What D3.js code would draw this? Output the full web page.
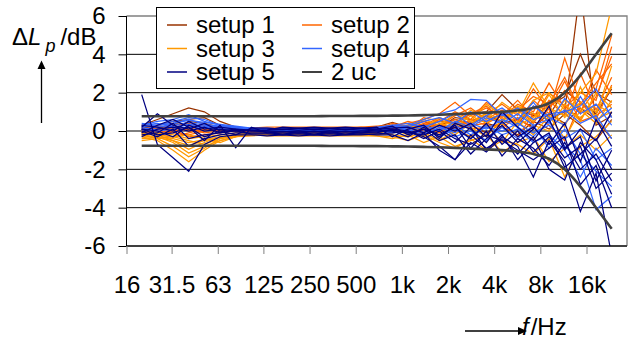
<!DOCTYPE html>
<html>
<head>
<meta charset="utf-8">
<script src="https://cdn.jsdelivr.net/npm/d3@7/dist/d3.min.js"></script>
<style>
  html, body { margin: 0; padding: 0; background: #fff; }
  svg { display: block; font-family: "Liberation Sans", Arial, sans-serif; }
</style>
</head>
<body>
<svg id="chart" width="632" height="341"></svg>
<script>
// One-third octave band centre frequencies (Hz) of every measured curve
const bands = [20, 25, 31.5, 40, 50, 63, 80, 100, 125, 160, 200, 250, 315, 400, 500, 630, 800,
  1000, 1250, 1600, 2000, 2500, 3150, 4000, 5000, 6300, 8000, 10000, 12500, 16000, 20000];

// Octave labels on the frequency axis
const tickFreqs = [16, 31.5, 63, 125, 250, 500, 1000, 2000, 4000, 8000, 16000];
const tickLabels = ["16", "31.5", "63", "125", "250", "500", "1k", "2k", "4k", "8k", "16k"];
const yTicks = [-6, -4, -2, 0, 2, 4, 6];

// Level deviation ΔLp in dB, one row per measurement
const setup1 = [
  [0.3, 0.6, 0.9, 1.2, 1.0, 0.5, 0.2, 0.1, 0.1, 0.05, 0.1, 0.05, 0.1, 0.1, 0.15, 0.2, 0.45, 0.2, 0.3, 0.5, 0.4, 0.9, 1.0, 1.9, 1.1, 0.8, 1.3, 1.8, 4.0, 2.0, 1.5],
  [0.1, 0.3, 0.5, 0.6, 0.7, 0.3, 0.1, 0.0, 0.05, 0.0, 0.05, 0.1, 0.05, 0.1, 0.1, 0.1, 0.3, 0.1, 0.2, 0.3, 0.6, 0.4, 0.8, 0.5, 1.2, 0.9, 0.6, 1.0, 7.5, 0.3, 0.8],
  [-0.1, 0.0, 0.2, 0.1, 0.3, 0.2, 0.0, 0.1, 0.0, 0.0, 0.05, 0.0, 0.0, 0.05, 0.0, 0.05, 0.1, -0.1, 0.1, -0.2, 0.2, 0.3, -0.1, 0.4, 0.6, 0.2, 0.9, 0.4, 1.2, 0.6, -0.4],
  [0.2, 0.1, 0.4, 0.3, 0.2, 0.1, 0.2, 0.1, 0.1, 0.1, 0.1, 0.1, 0.1, 0.1, 0.1, 0.2, 0.25, 0.3, 0.5, 0.2, 0.7, 0.6, 0.5, 0.9, 0.4, 1.3, 0.8, 2.1, 1.5, 0.9, 2.2],
  [0.0, 0.2, 0.1, 0.5, 0.4, 0.2, 0.1, 0.05, 0.0, 0.05, 0.0, 0.05, 0.0, 0.0, 0.05, 0.1, 0.2, 0.0, -0.1, 0.3, 0.1, -0.3, 0.4, 0.2, -0.2, 0.5, 0.1, 0.9, 0.3, -0.5, 0.6]
];
const setup2 = [
  [0.1, 0.0, -0.1, -0.2, 0.0, 0.1, 0.1, 0.15, 0.2, 0.2, 0.2, 0.2, 0.2, 0.2, 0.2, 0.25, 0.3, 0.4, 0.6, 0.9, 1.5, 0.8, 1.2, 0.7, 1.4, 1.0, 2.5, 1.2, 2.0, 1.6, 4.4],
  [0.0, 0.1, 0.2, 0.0, 0.1, 0.0, 0.1, 0.05, 0.1, 0.1, 0.1, 0.15, 0.1, 0.1, 0.2, 0.1, 0.4, 0.2, 0.5, 0.3, 0.8, 1.2, 0.6, 1.1, 0.5, 1.6, 0.9, 3.8, 1.4, 2.5, 3.5],
  [-0.2, -0.1, 0.0, 0.1, -0.1, 0.0, 0.05, 0.0, 0.05, 0.1, 0.05, 0.1, 0.05, 0.1, 0.1, 0.15, 0.2, 0.5, 0.3, 0.7, 0.4, 0.9, 1.3, 0.6, 1.2, 0.4, 1.6, 0.8, 3.0, 1.1, 2.8],
  [0.2, 0.3, 0.1, 0.2, 0.3, 0.2, 0.1, 0.1, 0.1, 0.05, 0.1, 0.1, 0.1, 0.15, 0.1, 0.2, 0.1, 0.3, 0.2, 0.6, 0.3, 0.5, 0.9, 1.4, 0.8, 2.2, 1.1, 2.6, 0.9, 3.2, 1.9],
  [0.0, -0.2, -0.3, -0.1, 0.1, 0.0, 0.0, 0.05, 0.0, 0.05, 0.1, 0.05, 0.1, 0.05, 0.1, 0.05, 0.25, 0.1, 0.4, 0.2, 0.6, 0.3, 0.4, 0.8, 1.6, 0.7, 2.0, 1.3, 0.6, 1.8, 3.9],
  [0.1, 0.2, 0.3, 0.4, 0.2, 0.1, 0.0, 0.1, 0.05, 0.1, 0.05, 0.1, 0.05, 0.1, 0.05, 0.1, 0.2, 0.0, 0.3, -0.1, 0.5, 0.1, 0.2, 0.4, -0.3, 0.9, 0.3, -0.5, 1.5, 0.6, 2.4],
  [-0.1, 0.0, 0.1, -0.3, -0.2, -0.1, 0.0, 0.0, 0.05, 0.0, 0.05, 0.0, 0.05, 0.0, 0.1, 0.0, 0.15, 0.2, 0.0, 0.4, 0.1, 0.6, 0.3, 0.2, 0.7, 0.1, 1.2, 2.1, 0.5, 0.8, 1.4],
  [0.3, 0.1, 0.0, 0.2, 0.1, 0.2, 0.15, 0.1, 0.1, 0.1, 0.1, 0.1, 0.1, 0.1, 0.1, 0.1, 0.3, 0.1, 0.7, 0.5, 1.0, 0.6, 1.5, 0.9, 1.1, 1.8, 1.4, 2.8, 1.0, 2.2, 5.0]
];
const setup3 = [
  [-0.3, -0.5, -1.0, -1.6, -1.0, -0.5, -0.3, -0.2, -0.15, -0.1, -0.15, -0.1, -0.1, -0.1, -0.15, -0.1, 0.1, -0.2, 0.2, 0.5, 0.3, 1.1, 0.6, 1.5, 0.9, 2.5, 1.2, 0.8, 2.0, 3.0, 6.5],
  [-0.2, -0.4, -0.8, -1.35, -0.9, -0.4, -0.2, -0.15, -0.1, -0.15, -0.1, -0.1, -0.15, -0.1, -0.1, -0.2, -0.1, 0.0, -0.3, 0.2, -0.2, 0.4, 0.9, 0.3, 1.2, 0.5, 1.9, 0.7, 1.5, 1.0, 2.3],
  [-0.3, -0.3, -0.6, -1.15, -0.8, -0.5, -0.3, -0.2, -0.2, -0.15, -0.15, -0.15, -0.1, -0.15, -0.15, -0.1, -0.2, -0.3, -0.1, -0.5, 0.0, -0.3, 0.3, -0.6, 0.5, -0.2, 0.8, -0.4, 1.1, 0.4, 1.6],
  [-0.1, -0.2, -0.5, -0.95, -0.6, -0.3, -0.2, -0.1, -0.1, -0.1, -0.05, -0.1, -0.05, -0.1, -0.1, -0.05, 0.0, 0.2, 0.6, 0.3, 0.9, 0.5, 1.4, 0.8, 0.4, 1.6, 2.0, 1.1, 0.7, 1.4, 0.9],
  [-0.4, -0.35, -0.5, -0.75, -0.5, -0.35, -0.25, -0.2, -0.25, -0.25, -0.25, -0.25, -0.25, -0.25, -0.25, -0.25, -0.3, -0.5, -0.2, -0.6, -0.9, -0.4, -1.0, -0.5, -0.7, -1.2, -0.4, -2.4, -0.8, -0.3, 0.5],
  [-0.2, -0.3, -0.4, -0.6, -0.45, -0.3, -0.2, -0.15, -0.1, -0.1, -0.1, -0.1, -0.1, -0.05, -0.1, -0.1, 0.0, -0.1, 0.3, 0.0, 0.5, 0.2, -0.3, 0.6, 1.1, 0.3, 0.0, 1.4, 0.5, 2.0, 1.2],
  [0.0, -0.1, -0.2, -0.4, -0.3, -0.2, -0.1, -0.1, -0.05, -0.05, -0.05, 0.0, -0.05, 0.0, -0.05, 0.0, 0.2, 0.1, -0.2, 0.4, 0.2, 0.8, 0.4, 1.0, 0.3, 0.7, 1.3, 0.2, 2.3, 0.6, 1.0],
  [-0.5, -0.4, -0.3, -0.5, -0.7, -0.4, -0.3, -0.25, -0.2, -0.2, -0.2, -0.15, -0.2, -0.2, -0.2, -0.25, -0.4, -0.2, -0.6, -0.3, -0.8, -0.5, -0.2, -1.1, -0.6, -0.3, -1.6, -0.9, -0.2, -1.0, -0.2],
  [-0.1, -0.2, -0.3, -0.2, -0.4, -0.6, -0.3, -0.1, -0.1, -0.05, -0.1, -0.05, -0.1, -0.05, -0.05, 0.0, 0.15, 0.3, 0.1, 0.7, 0.4, 0.2, 1.0, 0.5, 1.3, 0.9, 0.6, 1.6, 1.2, 0.8, 3.4]
];
const setup4 = [
  [0.3, 0.5, 0.6, 0.85, 0.5, 0.3, 0.2, 0.15, 0.1, 0.1, 0.1, 0.1, 0.1, 0.1, 0.1, 0.1, 0.2, 0.3, 0.6, 0.9, 1.1, 1.65, 1.6, 0.8, 1.2, 0.6, 0.9, 1.0, 1.3, 2.2, 0.7],
  [0.2, 0.3, 0.5, 0.7, 0.6, 0.3, 0.2, 0.1, 0.1, 0.1, 0.05, 0.1, 0.05, 0.1, 0.05, 0.1, 0.0, 0.1, -0.2, 0.2, -0.1, 0.4, 0.1, 0.6, 0.2, -0.3, 0.5, -0.8, -1.5, -4.1, -3.4],
  [0.4, 0.3, 0.4, 0.55, 0.45, 0.35, 0.25, 0.15, 0.15, 0.1, 0.1, 0.1, 0.1, 0.1, 0.15, 0.1, 0.2, 0.1, 0.3, 0.0, 0.5, 0.2, 0.7, 0.4, 0.9, 0.3, 0.6, 1.1, 0.4, 0.8, -0.4],
  [0.1, 0.2, 0.3, 0.45, 0.3, 0.2, 0.1, 0.1, 0.05, 0.05, 0.05, 0.05, 0.05, 0.05, 0.05, 0.05, -0.1, 0.0, 0.2, -0.3, 0.1, -0.4, 0.3, -0.2, 0.1, -0.6, -0.2, -1.0, -2.4, -0.9, -1.8],
  [0.3, 0.4, 0.2, 0.35, 0.25, 0.15, 0.2, 0.1, 0.1, 0.1, 0.1, 0.05, 0.1, 0.05, 0.1, 0.15, 0.3, 0.2, 0.5, 0.7, 0.4, 1.0, 0.5, 0.9, 0.2, 1.3, 0.7, 0.3, 1.8, 0.5, 1.2],
  [0.0, 0.1, 0.2, 0.3, 0.2, 0.1, 0.05, 0.05, 0.0, 0.05, 0.0, 0.05, 0.0, 0.05, 0.0, 0.05, 0.1, -0.1, 0.0, 0.3, -0.3, 0.0, -0.5, 0.2, -0.4, 0.3, -0.9, 0.1, -1.2, -2.1, -2.9],
  [0.2, 0.3, 0.4, 0.6, 0.35, 0.25, 0.15, 0.1, 0.1, 0.05, 0.1, 0.1, 0.05, 0.1, 0.1, 0.2, 0.3, 0.4, 0.2, 0.5, 0.9, 0.3, 0.8, 1.2, 0.6, 1.5, 0.4, 1.7, 0.9, 1.4, 0.3],
  [0.1, 0.0, 0.1, 0.2, 0.15, 0.1, 0.1, 0.05, 0.05, 0.0, 0.05, 0.0, 0.05, 0.0, 0.05, 0.0, 0.0, 0.2, -0.1, 0.1, 0.3, -0.2, 0.2, 0.0, 0.4, -0.1, 0.3, -0.4, 0.1, -1.5, -0.9]
];
const setup5 = [
  [1.9, -0.7, -1.4, -2.1, -0.7, -0.3, -0.2, -0.2, -0.25, -0.2, -0.25, -0.2, -0.25, -0.2, -0.2, -0.15, -0.1, 0.0, -0.3, -0.8, -1.5, -0.6, -1.1, -0.3, -0.8, -2.4, -0.5, -1.6, -4.2, -2.2, -6.5],
  [0.2, 0.9, 0.3, 0.1, 0.4, 0.0, -0.2, 0.15, 0.15, 0.1, 0.15, 0.1, 0.15, 0.1, 0.15, 0.1, 0.25, -0.2, 0.1, -0.5, -0.2, -1.2, -0.4, 0.3, -0.6, 0.1, 1.3, -0.9, -0.3, -2.6, -1.0],
  [-0.1, 0.3, 0.6, 0.2, -0.5, 0.3, -0.87, 0.2, -0.1, -0.15, -0.1, -0.15, -0.1, -0.15, -0.1, -0.05, 0.0, -0.3, 0.2, -0.3, 0.3, -0.9, 0.0, -1.3, -0.4, -0.9, -1.8, -0.6, -2.0, -1.2, -2.6],
  [0.1, 0.0, -0.3, 0.3, 0.0, 0.1, 0.0, 0.05, 0.05, 0.1, 0.05, 0.1, 0.05, 0.1, 0.05, 0.1, 0.15, 0.2, -0.1, 0.3, 0.0, 0.4, -0.3, 1.0, 0.2, -0.5, 0.6, -1.0, 0.1, -0.5, 1.0],
  [-0.2, -0.1, 0.4, -0.4, -0.2, -0.1, 0.0, -0.15, -0.15, -0.2, -0.15, -0.2, -0.15, -0.2, -0.15, -0.2, -0.2, -0.5, -0.1, -1.0, -1.5, -0.2, -0.9, -0.4, -1.2, -0.3, -2.0, -2.56, -0.6, -1.5, -3.3],
  [0.3, 0.2, 0.0, 0.5, 0.1, 0.2, 0.1, 0.05, 0.0, 0.0, -0.05, 0.0, -0.05, 0.0, -0.05, 0.0, 0.05, -0.1, 0.1, -0.2, 0.2, -0.4, 0.4, -0.7, 0.0, -1.1, -0.3, -1.4, -0.8, -3.0, -2.2],
  [0.0, -0.3, 0.1, -0.8, -0.4, -0.2, -0.1, -0.1, -0.1, -0.05, -0.1, -0.05, -0.1, -0.05, -0.1, -0.1, 0.1, 0.0, -0.4, 0.0, -0.6, 0.2, -1.0, -0.2, -1.5, -0.6, -0.1, -1.9, -1.2, -0.4, -2.0],
  [-0.3, 0.1, 0.2, 0.0, 0.2, -0.1, 0.05, 0.0, 0.05, 0.2, 0.15, 0.2, 0.15, 0.2, 0.15, 0.2, -0.3, 0.1, 0.3, -0.4, 0.4, 0.1, -0.6, 0.5, -0.3, 0.2, -0.7, 0.4, -1.6, 0.6, -0.8],
  [0.1, -0.2, -0.1, 0.2, -0.3, 0.0, 0.1, 0.0, -0.05, -0.05, 0.0, -0.05, 0.0, -0.05, 0.0, 0.05, 0.05, -0.1, -0.2, 0.1, -0.4, -0.7, -0.2, -0.5, -1.0, -1.5, -0.9, -0.3, -2.8, -1.8, -4.0]
];
// Expanded uncertainty (k = 2), drawn as ± envelope
const uc2 = [0.77, 0.77, 0.77, 0.77, 0.77, 0.77, 0.77, 0.77, 0.77, 0.77, 0.77, 0.77, 0.78, 0.78, 0.79, 0.79, 0.8, 0.81, 0.83, 0.85, 0.88, 0.92, 0.96, 1.0, 1.07, 1.2, 1.45, 2.0, 2.9, 4.0, 5.1];

const seriesNames = ["setup 1", "setup 2", "setup 3", "setup 4", "setup 5", "2 uc"];
const seriesColors = ["#993300", "#FF6600", "#FF9900", "#3366FF", "#000080", "#404040"];

const svg = d3.select("#chart");
const plot = { left: 126.5, top: 16, right: 627, bottom: 246 };

const y = d3.scaleLinear().domain([-6, 6]).range([plot.bottom, plot.top]);
const xTick = d3.scaleLog().domain([16, 16000]).range([126.5, 586.5]);
const xBand = d3.scaleLinear().domain([0, bands.length - 1]).range([141.7, 611.7]);

svg.append("defs").append("clipPath").attr("id", "plotClip")
  .append("rect")
  .attr("x", plot.left).attr("y", plot.top)
  .attr("width", plot.right - plot.left).attr("height", plot.bottom - plot.top);

// horizontal gridlines
svg.append("g").selectAll("line").data(yTicks.filter(d => d !== 6)).join("line")
  .attr("x1", plot.left).attr("x2", plot.right)
  .attr("y1", d => y(d)).attr("y2", d => y(d))
  .attr("stroke", "#000").attr("stroke-width", 1);

// plot-area frame (top and right edges)
svg.append("path")
  .attr("d", `M${plot.left},${y(6)}H${plot.right}V${plot.bottom}`)
  .attr("fill", "none").attr("stroke", "#808080").attr("stroke-width", 1.3);

// measurement curves
const line = d3.line().x((d, i) => xBand(i)).y(d => y(d));
const curves = svg.append("g").attr("clip-path", "url(#plotClip)");
[setup1, setup2, setup3, setup4, setup5].forEach((rows, s) => {
  curves.append("g").selectAll("path").data(rows).join("path")
    .attr("d", line)
    .attr("fill", "none")
    .attr("stroke", seriesColors[s])
    .attr("stroke-width", 1.25)
    .attr("stroke-linejoin", "miter");
});

// ± uncertainty envelope
const smooth = d3.line().x((d, i) => xBand(i)).y(d => y(d)).curve(d3.curveMonotoneX);
curves.append("g").selectAll("path").data([uc2, uc2.map(v => -v)]).join("path")
  .attr("d", smooth)
  .attr("fill", "none")
  .attr("stroke", seriesColors[5])
  .attr("stroke-width", 2.6);

// y axis
const yAxis = svg.append("g")
  .attr("transform", `translate(${plot.left},0)`)
  .call(d3.axisLeft(y).tickValues(yTicks).tickSize(8).tickPadding(13)
    .tickFormat(d => (d < 0 ? "-" + Math.abs(d) : String(d))));
yAxis.select(".domain").attr("stroke", "#000").attr("d", `M0,${plot.top}V${plot.bottom}`);
yAxis.selectAll(".tick line").attr("stroke", "#000");
yAxis.selectAll("text").attr("font-size", 24).attr("fill", "#000")
  .attr("font-family", "'Liberation Sans', Arial, sans-serif");

// x axis
const xAxis = svg.append("g")
  .attr("transform", `translate(0,${plot.bottom})`)
  .call(d3.axisBottom(xTick).tickValues(tickFreqs).tickSize(8).tickPadding(22)
    .tickFormat((d, i) => tickLabels[i]));
xAxis.select(".domain").attr("stroke", "#000").attr("d", `M${plot.left},0H${plot.right}`);
xAxis.selectAll(".tick line").attr("stroke", "#808080");
xAxis.selectAll("text").attr("font-size", 24).attr("fill", "#000")
  .attr("font-family", "'Liberation Sans', Arial, sans-serif");

// legend
const legend = svg.append("g");
legend.append("rect")
  .attr("x", 156.5).attr("y", 7.5).attr("width", 258).attr("height", 81)
  .attr("fill", "#fff").attr("stroke", "#000").attr("stroke-width", 1);
const legCols = [167, 302];
const legRows = [25, 48.5, 72];
seriesNames.forEach((name, i) => {
  const cx = legCols[i % 2], cy = legRows[Math.floor(i / 2)];
  legend.append("line")
    .attr("x1", cx).attr("x2", cx + 20).attr("y1", cy).attr("y2", cy)
    .attr("stroke", seriesColors[i]).attr("stroke-width", i === 5 ? 2 : 1.5);
  legend.append("text")
    .attr("x", cx + 29).attr("y", cy).attr("dy", "0.35em")
    .attr("font-size", 24).attr("fill", "#000").text(name);
});

// y axis title and arrow
const yTitle = svg.append("text").attr("y", 45).attr("font-size", 24).attr("fill", "#000");
yTitle.append("tspan").attr("x", 12).text("Δ");
yTitle.append("tspan").attr("font-style", "italic").text("L");
yTitle.append("tspan").attr("font-style", "italic").attr("font-size", 18).attr("dx", 4).attr("dy", 7).text("p");
yTitle.append("tspan").attr("dx", 5).attr("dy", -7).text("/dB");

svg.append("line").attr("x1", 41.5).attr("x2", 41.5).attr("y1", 123).attr("y2", 68)
  .attr("stroke", "#000").attr("stroke-width", 1.3);
svg.append("path").attr("d", "M41.5,60.5L37.5,69L45.5,69Z").attr("fill", "#000");

// x axis title and arrow
svg.append("line").attr("x1", 465).attr("x2", 520).attr("y1", 331).attr("y2", 331)
  .attr("stroke", "#000").attr("stroke-width", 1.3);
svg.append("path").attr("d", "M527,331L518,327L518,335Z").attr("fill", "#000");
const xTitle = svg.append("text").attr("x", 522).attr("y", 335).attr("font-size", 24).attr("fill", "#000");
xTitle.append("tspan").attr("font-style", "italic").text("f");
xTitle.append("tspan").attr("dx", 2).text("/Hz");
</script>
</body>
</html>
